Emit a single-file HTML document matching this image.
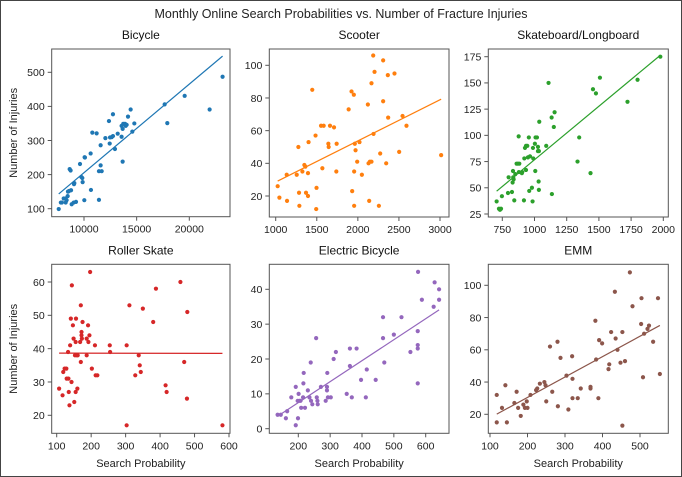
<!DOCTYPE html>
<html><head><meta charset="utf-8"><style>
body{margin:0;background:#fff;}
svg{display:block;font-family:"Liberation Sans",Arial,sans-serif;}
</style></head><body>
<svg id="fig" width="682" height="477" viewBox="0 0 682 477">
<rect x="0.5" y="0.5" width="681" height="476" fill="#fff" stroke="#444"/>
<text x="341" y="18" text-anchor="middle" font-size="12.5" fill="#222">Monthly Online Search Probabilities vs. Number of Fracture Injuries</text>
</svg>
<script>
const bicycleX=[7600,7800,7900,8070,8260,8350,8260,8450,8480,8580,8770,8640,8730,8830,9020,9240,9050,9080,9620,9750,9840,9870,10030,10090,10060,10630,10660,10790,11200,11420,11420,11680,11580,11580,12030,12370,12440,12470,12630,12750,12750,12940,13200,13570,13570,13670,13670,13730,13890,13960,14050,14180,14430,14590,14780,17660,17910,19560,21930,23160];
const bicycleY=[99,118,118,130,130,125,118,137,150,152,154,216,212,113,118,120,172,175,231,193,190,178,125,250,251,262,155,323,321,126,210,210,227,286,307,357,291,309,310,313,377,275,320,311,343,334,238,349,349,343,346,370,391,326,350,406,351,431,391,487];
const scooterX=[1024,1045,1134,1138,1256,1276,1284,1288,1325,1349,1361,1369,1393,1393,1400,1445,1485,1497,1493,1552,1568,1584,1641,1645,1661,1710,1738,1742,1888,1923,1931,1951,1955,1955,1963,1972,1992,2020,2049,2122,2130,2138,2146,2166,2166,2187,2191,2203,2256,2272,2308,2308,2345,2365,2369,2446,2503,2544,2592,3014];
const scooterY=[26,19,33,17,33,50,22,14,35,39,38,22,20,34,53,85,57,25,12,63,37,63,52,50,63,62,35,52,73,84,23,82,14,35,52,48,41,53,33,76,40,17,41,41,89,106,58,96,14,46,103,78,40,94,68,95,47,69,63,45];
const skateX=[706,724,732,740,747,794,799,825,830,833,835,838,843,851,861,871,877,879,882,902,905,918,921,926,934,934,944,949,956,959,965,980,985,988,990,1003,1006,1008,1019,1027,1027,1032,1034,1034,1037,1091,1109,1133,1135,1150,1156,1334,1347,1435,1454,1477,1508,1722,1800,1977];
const skateY=[37,30,29,30,42,45,60,46,55,66,60,58,38,63,73,73,99,65,73,64,65,38,78,88,90,67,90,79,98,47,80,50,37,88,78,92,66,98,98,89,85,56,85,48,113,90,150,117,44,108,122,75,98,64,144,140,155,132,153,175];
const rollerX=[107,117,119,123,128,129,134,133,135,137,139,141,143,144,147,149,151,155,155,156,153,158,160,161,168,170,170,172,172,173,175,187,187,191,192,195,197,202,211,213,218,254,255,303,303,311,328,338,341,344,350,380,388,416,419,459,470,478,479,581];
const rollerY=[28,26,33,34,34,31,31,39,27,23,41,49,30,59,47,43,24,27,42,49,38,38,28,38,42,36,53,44,45,43,48,43,38,47,42,44,63,34,41,32,32,41,39,41,17,53,32,38,35,33,52,48,58,29,27,60,36,25,51,17];
const ebikeX=[135,145,161,165,178,192,192,198,199,201,204,207,209,215,217,216,221,230,235,239,240,244,256,258,260,261,271,286,290,290,291,293,302,311,318,352,362,362,368,383,397,412,415,443,466,466,470,500,524,552,575,575,575,575,576,588,625,628,642,642];
const ebikeY=[4,4,3,5,9,1,12,8,3,10,8,8,6,9,16,13,6,11,9,19,8,7,26,9,8,7,12,8,12,11,16,9,9,20,22,10,23,18,9,23,14,9,17,14,32,26,19,27,32,22,13,23,24,28,45,37,35,42,40,37];
const emmX=[118,118,132,141,145,165,171,175,182,189,193,198,200,208,223,226,233,245,248,250,260,266,280,281,288,304,309,319,320,320,334,342,368,368,381,383,389,391,399,416,418,423,433,435,440,448,453,453,460,473,480,503,504,508,511,520,524,535,548,553];
const emmY=[32,15,24,38,15,27,34,24,19,26,24,28,24,32,35,36,39,40,38,28,62,34,65,25,55,44,23,56,42,30,30,36,37,36,78,54,30,66,64,48,51,71,96,67,60,52,71,13,53,108,87,76,92,43,70,73,75,65,92,45];

const NS='http://www.w3.org/2000/svg';
const svg=document.getElementById('fig');
function mk(tag,attrs,parent){const e=document.createElementNS(NS,tag);for(const k in attrs)e.setAttribute(k,attrs[k]);(parent||svg).appendChild(e);return e;}

const panels=[
 {key:'bicycle',title:'Bicycle',xs:bicycleX,ys:bicycleY,color:'#1f77b4',box:[51.7,49,230,216.7],xc:[10000,84,20000,189.3],yc:[100,208.7,500,72.3],xt:[10000,15000,20000],yt:[100,200,300,400,500],ylab:true,xlab:false},
 {key:'scooter',title:'Scooter',xs:scooterX,ys:scooterY,color:'#ff7f0e',box:[269.3,49,449,217],xc:[1000,275.7,3000,440],yc:[20,196,100,65.3],xt:[1000,1500,2000,2500,3000],yt:[20,40,60,80,100],ylab:false,xlab:false},
 {key:'skateboard',title:'Skateboard/Longboard',xs:skateX,ys:skateY,color:'#2ca02c',box:[488.3,49,668.3,217],xc:[750,502.3,2000,663.3],yc:[25,214,175,56.7],xt:[750,1000,1250,1500,1750,2000],yt:[25,50,75,100,125,150,175],ylab:false,xlab:false},
 {key:'roller-skate',title:'Roller Skate',xs:rollerX,ys:rollerY,color:'#d62728',box:[51.7,264.3,230,433.3],xc:[100,56.7,600,229],yc:[20,415.3,60,282],xt:[100,200,300,400,500,600],yt:[20,30,40,50,60],ylab:true,xlab:true},
 {key:'electric-bicycle',title:'Electric Bicycle',xs:ebikeX,ys:ebikeY,color:'#9467bd',box:[269.3,264.3,449,433.3],xc:[200,298.3,600,425.7],yc:[0,428.7,40,289.3],xt:[200,300,400,500,600],yt:[0,10,20,30,40],ylab:false,xlab:true},
 {key:'emm',title:'EMM',xs:emmX,ys:emmY,color:'#8c564b',box:[488.3,264.3,668.3,433.3],xc:[100,490,500,640],yc:[20,414.3,100,285.3],xt:[100,200,300,400,500],yt:[20,40,60,80,100],ylab:false,xlab:true}
];

panels.forEach(p=>{
 const [L,T,R,B]=p.box;
 const sx=v=>p.xc[1]+(v-p.xc[0])*(p.xc[3]-p.xc[1])/(p.xc[2]-p.xc[0]);
 const sy=v=>p.yc[1]+(v-p.yc[0])*(p.yc[3]-p.yc[1])/(p.yc[2]-p.yc[0]);
 const g=mk('g',{});
 
 
 const t=mk('text',{x:(L+R)/2,y:T-10,'text-anchor':'middle','font-size':12,fill:'#111'},g);
 t.textContent=p.title;
 
 
 const fr=mk('rect',{x:L,y:T,width:R-L,height:B-T,fill:'none',stroke:'#555','stroke-width':1},g);
 
 
 p.xt.forEach(v=>{
  const x=sx(v);
  const tk=mk('line',{x1:x,x2:x,y1:B,y2:B+4,stroke:'#555'},g);
  
  
  const tl=mk('text',{x:x,y:B+16,'text-anchor':'middle','font-size':10.5,fill:'#222'},g);
  tl.textContent=v;
  
  
 });
 p.yt.forEach(v=>{
  const y=sy(v);
  const tk=mk('line',{x1:L-4,x2:L,y1:y,y2:y,stroke:'#555'},g);
  
  
  const tl=mk('text',{x:L-7,y:y+3.8,'text-anchor':'end','font-size':10.5,fill:'#222'},g);
  tl.textContent=v;
  
  
 });
 if(p.ylab){
  const cy=(T+B)/2;
  const yl=mk('text',{x:0,y:0,transform:'translate(17,'+cy+') rotate(-90)','text-anchor':'middle','font-size':11,fill:'#222'},g);
  yl.textContent='Number of Injuries';
  
  
 }
 if(p.xlab){
  const xl=mk('text',{x:(L+R)/2,y:467,'text-anchor':'middle','font-size':11,fill:'#222'},g);
  xl.textContent='Search Probability';
  
  
 }
 // regression
 const n=p.xs.length;let mx=0,my=0;
 for(let i=0;i<n;i++){mx+=p.xs[i];my+=p.ys[i];}
 mx/=n;my/=n;let sxy=0,sxx=0;
 for(let i=0;i<n;i++){sxy+=(p.xs[i]-mx)*(p.ys[i]-my);sxx+=(p.xs[i]-mx)**2;}
 const b=sxy/sxx,a=my-b*mx;
 const x0=Math.min(...p.xs),x1=Math.max(...p.xs);
 p.xs.forEach((v,i)=>{
  const c=mk('circle',{cx:sx(v),cy:sy(p.ys[i]),r:2.1,fill:p.color},g);
  
  
 });
 const ln=mk('line',{x1:sx(x0),y1:sy(a+b*x0),x2:sx(x1),y2:sy(a+b*x1),stroke:p.color,'stroke-width':1.2},g);
 
 
});
</script>
</body></html>
